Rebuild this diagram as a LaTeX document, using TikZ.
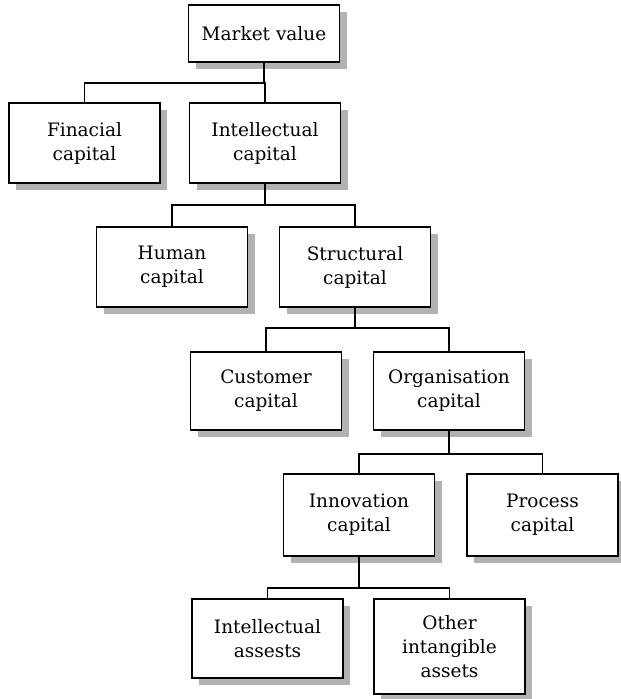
\documentclass[tikz,border=0pt]{standalone}
\usepackage{fontspec}
\setmainfont{DejaVu Serif}
\usetikzlibrary{shadows}
\begin{document}
\begin{tikzpicture}[x=1pt,y=-1pt,
  box/.style={draw,line width=1.9pt,fill=white,minimum width=151pt,minimum height=80pt,
    inner sep=0pt,align=center,font=\fontsize{18.5}{24}\selectfont,
    drop shadow={shadow xshift=7pt,shadow yshift=-7pt,fill=black!30,opacity=1}},
  link/.style={line width=1.9pt}]
\useasboundingbox (0,0) rectangle (621,699);
\node[box,minimum height=57pt] (mv) at (264,33.5) {Market value};
\node[box] (fin) at (84.5,143) {Finacial\\capital};
\node[box] (ic) at (265,143) {Intellectual\\capital};
\node[box] (hc) at (172,267) {Human\\capital};
\node[box] (sc) at (355,267) {Structural\\capital};
\node[box,minimum height=78pt] (cc) at (266,391) {Customer\\capital};
\node[box,minimum height=78pt] (oc) at (449,391) {Organisation\\capital};
\node[box,minimum height=82pt] (inn) at (359,515) {Innovation\\capital};
\node[box,minimum height=82pt] (pc) at (542.5,515) {Process\\capital};
\node[box,minimum height=79pt] (ia) at (267.5,638.5) {Intellectual\\assests};
\node[box,minimum height=95pt] (oa) at (449.5,646.5) {Other\\intangible\\assets};
\coordinate (b1) at (0,83);
\coordinate (b2) at (0,205);
\coordinate (b3) at (0,328);
\coordinate (b4) at (0,454);
\coordinate (b5) at (0,588);
\draw[link] (mv.south) -- (mv.south |- b1);
\draw[link] (fin.north) |- (ic.north |- b1) -- (ic.north);
\draw[link] (ic.south) -- (ic.south |- b2);
\draw[link] (hc.north) |- (sc.north |- b2) -- (sc.north);
\draw[link] (sc.south) -- (sc.south |- b3);
\draw[link] (cc.north) |- (oc.north |- b3) -- (oc.north);
\draw[link] (oc.south) -- (oc.south |- b4);
\draw[link] (inn.north) |- (pc.north |- b4) -- (pc.north);
\draw[link] (inn.south) -- (inn.south |- b5);
\draw[link] (ia.north) |- (oa.north |- b5) -- (oa.north);
\end{tikzpicture}
\end{document}
